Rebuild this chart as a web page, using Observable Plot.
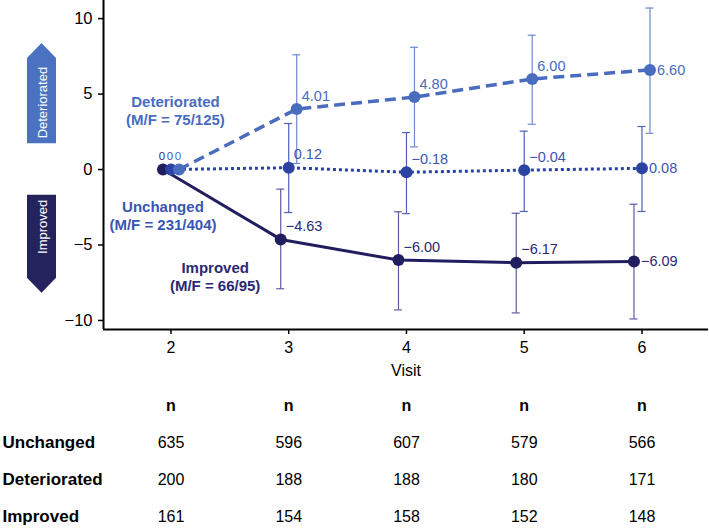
<!DOCTYPE html>
<html><head><meta charset="utf-8">
<script src="https://cdn.jsdelivr.net/npm/d3@7"></script>
<script src="https://cdn.jsdelivr.net/npm/@observablehq/plot@0.6"></script>
<style>
body{margin:0;background:#fff;font-family:"Liberation Sans",Arial,sans-serif;}
#wrap{width:709px;}
#wrap svg{display:block;}
</style></head><body><div id="wrap"></div>
<script>
// ---- data ----
const visits = [2, 3, 4, 5, 6];
const groups = ["Improved", "Unchanged", "Deteriorated"];
const improvedMean = [0, -4.63, -6.00, -6.17, -6.09];
const improvedLo = [0, -7.9, -9.3, -9.5, -9.9];
const improvedHi = [0, -1.3, -2.8, -2.9, -2.3];
const unchangedMean = [0, 0.12, -0.18, -0.04, 0.08];
const unchangedLo = [0, -2.85, -2.92, -2.78, -2.78];
const unchangedHi = [0, 3.05, 2.45, 2.54, 2.85];
const deterioratedMean = [0, 4.01, 4.80, 6.00, 6.60];
const deterioratedLo = [0, 0.4, 1.5, 3.0, 2.4];
const deterioratedHi = [0, 7.6, 8.1, 8.9, 10.7];
const tableRows = ["n", "Unchanged", "Deteriorated", "Improved"];
const nUnchanged = [635, 596, 607, 579, 566];
const nDeteriorated = [200, 188, 188, 180, 171];
const nImproved = [161, 154, 158, 152, 148];
const groupLabels = ["Deteriorated\n(M/F = 75/125)", "Unchanged\n(M/F = 231/404)", "Improved\n(M/F = 66/95)"];
const groupLabelVisit = [2.038, 1.932, 2.375];
const groupLabelValue = [3.91, -3.02, -7.10];
const yTicks = [-10, -5, 0, 5, 10];

// ---- styles ----
const style = {
  Improved:     {color: "#201e5e", bar: "#5d5ba6", dash: null,   width: 3,   label: "#2a2872"},
  Unchanged:    {color: "#2b43a3", bar: "#4d60bb", dash: "3,3",  width: 3,   label: "#3a56b4"},
  Deteriorated: {color: "#4a6cbf", bar: "#6d88d0", dash: "11,6", width: 3.5, label: "#4a6cbf"}
};
const source = {
  Improved: [improvedMean, improvedLo, improvedHi],
  Unchanged: [unchangedMean, unchangedLo, unchangedHi],
  Deteriorated: [deterioratedMean, deterioratedLo, deterioratedHi]
};
const pxPerVisit = 117.75;
const dodge = {Improved: -8 / pxPerVisit, Unchanged: 0, Deteriorated: 8 / pxPerVisit};
const cap = 4 / pxPerVisit;
const xDomain = [1.427, 6.565];
const yDomain = [-10.6, 11.2];

const rows = [];
for (const g of groups) {
  const [m, lo, hi] = source[g];
  visits.forEach((v, i) => rows.push({group: g, visit: v, x: v + dodge[g], mean: m[i], lo: lo[i], hi: hi[i]}));
}
const fmt = v => v === 0 ? "0" : v.toFixed(2).replace("-", "\u2212");

const marks = [];
// error bars
for (const g of groups) {
  const d = rows.filter(r => r.group === g && r.visit > 2);
  const s = style[g];
  marks.push(Plot.ruleX(d, {x: "x", y1: "lo", y2: "hi", stroke: s.bar, strokeWidth: 1.2}));
  marks.push(Plot.ruleY(d, {y: "lo", x1: r => r.x - cap, x2: r => r.x + cap, stroke: s.bar, strokeWidth: 1.2}));
  marks.push(Plot.ruleY(d, {y: "hi", x1: r => r.x - cap, x2: r => r.x + cap, stroke: s.bar, strokeWidth: 1.2}));
}
// lines
for (const g of groups) {
  const s = style[g];
  marks.push(Plot.line(rows.filter(r => r.group === g), {x: "x", y: "mean", stroke: s.color, strokeWidth: s.width, strokeDasharray: s.dash, strokeLinecap: "butt"}));
}
// dots
for (const g of groups) {
  marks.push(Plot.dot(rows.filter(r => r.group === g), {x: "x", y: "mean", r: 6, fill: style[g].color, stroke: "none"}));
}
// value labels
for (const g of groups) {
  const s = style[g];
  const d = rows.filter(r => r.group === g);
  marks.push(Plot.text(d.filter(r => r.visit > 2 && r.visit < 6), {x: "x", y: "mean", text: r => fmt(r.mean), textAnchor: "start", dx: 5, dy: -13, fontSize: 14.5, fill: s.label}));
  marks.push(Plot.text(d.filter(r => r.visit === 6), {x: "x", y: "mean", text: r => fmt(r.mean), textAnchor: "start", dx: 7, dy: 0, fontSize: 14.5, fill: s.label}));
  marks.push(Plot.text(d.filter(r => r.visit === 2), {x: "x", y: "mean", text: r => fmt(r.mean), textAnchor: "middle", dx: -1, dy: -13, fontSize: 11.5, fill: s.label}));
}
// group annotations
const annot = groupLabels.map((t, i) => ({text: t, x: groupLabelVisit[i], y: groupLabelValue[i], g: ["Deteriorated", "Unchanged", "Improved"][i]}));
marks.push(Plot.text(annot, {x: "x", y: "y", text: "text", fontWeight: "bold", fontSize: 15, lineHeight: 1.2, fill: d => style[d.g].label}));
// axes
marks.push(Plot.axisY({ticks: yTicks, tickSize: 5, tickPadding: 6, fontSize: 16.5, strokeWidth: 1.5, label: null, tickFormat: d => String(d).replace("-", "\u2212")}));
marks.push(Plot.axisX({ticks: visits, tickSize: 5, tickPadding: 7, fontSize: 16, strokeWidth: 1.5, label: null, tickFormat: d => String(d)}));
marks.push(Plot.ruleX([xDomain[0]], {stroke: "black", strokeWidth: 2}));
marks.push(Plot.ruleY([yDomain[0]], {stroke: "black", strokeWidth: 2}));
marks.push(Plot.text(["Visit"], {frameAnchor: "bottom", lineAnchor: "middle", dy: 41, fontSize: 16, fill: "black"}));

const chart = Plot.plot({
  width: 709, height: 380,
  marginLeft: 103, marginRight: 1, marginTop: 0, marginBottom: 51,
  style: {fontFamily: "'Liberation Sans', Arial, sans-serif", color: "black", background: "white", overflow: "visible"},
  x: {domain: xDomain, axis: null},
  y: {domain: yDomain, axis: null},
  marks
});

// direction arrows on the left, positioned via the y scale
const ys = chart.scale("y");
const arrows = [
  {name: "Deteriorated", fill: "#4a72c0", tip: 8.35, shoulder: 7.35, base: 1.7, up: true},
  {name: "Improved", fill: "#24235e", tip: -8.2, shoulder: -7.2, base: -1.7, up: false}
];
const svg = d3.select(chart);
const ag = svg.append("g");
const xl = 27, xr = 56, xm = (xl + xr) / 2;
for (const a of arrows) {
  const t = ys.apply(a.tip), s = ys.apply(a.shoulder), b = ys.apply(a.base);
  ag.append("polygon")
    .attr("points", [[xl, b], [xr, b], [xr, s], [xm, t], [xl, s]].map(p => p.join(",")).join(" "))
    .attr("fill", a.fill);
  const ty = a.up ? b - 5 : b + 5;
  ag.append("text")
    .attr("transform", `translate(${xm + 1},${ty}) rotate(-90)`)
    .attr("text-anchor", a.up ? "start" : "end")
    .attr("dominant-baseline", "central")
    .attr("fill", "white")
    .attr("font-size", 13)
    .attr("font-family", "'Liberation Sans', Arial, sans-serif")
    .text(a.name);
}
document.getElementById("wrap").append(chart);

// n table below, sharing the x scale
const counts = {Unchanged: nUnchanged, Deteriorated: nDeteriorated, Improved: nImproved};
const cells = [];
visits.forEach((v, i) => {
  for (const r of ["Unchanged", "Deteriorated", "Improved"]) cells.push({row: r, visit: v, text: String(counts[r][i])});
});
const table = Plot.plot({
  width: 709, height: 148,
  marginLeft: 103, marginRight: 1, marginTop: 24, marginBottom: 11,
  style: {fontFamily: "'Liberation Sans', Arial, sans-serif", color: "black", background: "white", overflow: "visible"},
  x: {domain: xDomain, axis: null},
  y: {type: "point", domain: tableRows, padding: 0, axis: null},
  marks: [
    Plot.text(visits, {x: d => d, y: () => "n", text: () => "n", fontSize: 16, fontWeight: "bold", fill: "black"}),
    Plot.text(cells, {x: "visit", y: "row", text: "text", fontSize: 16, fill: "black"}),
    Plot.text(tableRows.slice(1), {y: d => d, text: d => d, frameAnchor: "left", textAnchor: "start", dx: -101, fontSize: 17, fontWeight: "bold", fill: "black"})
  ]
});
document.getElementById("wrap").append(table);
</script>
</body></html>
